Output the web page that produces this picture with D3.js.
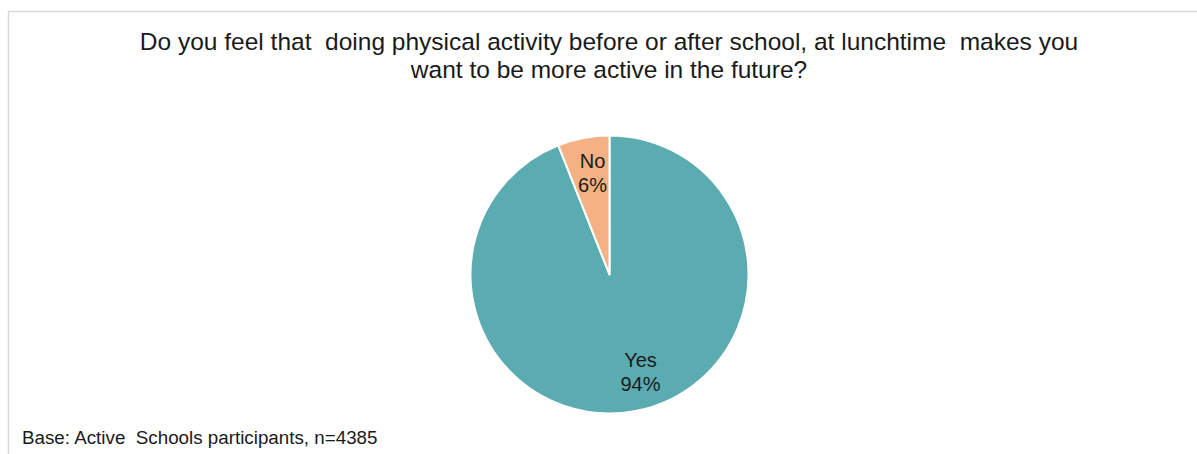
<!DOCTYPE html>
<html>
<head>
<meta charset="utf-8">
<script src="https://cdn.jsdelivr.net/npm/d3@7"></script>
<style>
  html, body { margin: 0; padding: 0; background: #fff; }
  svg { display: block; }
  text { font-family: "Liberation Sans", Arial, sans-serif; fill: #1a1a1a; white-space: pre; }
</style>
</head>
<body>
<svg id="chart" width="1197" height="454"></svg>
<script>
// Survey responses
const categories = ["Yes", "No"];
const shares = [94, 6];
const sliceColors = ["#5BACB1", "#F4B183"];
const titleLines = [
  "Do you feel that  doing physical activity before or after school, at lunchtime  makes you",
  "want to be more active in the future?"
];
const footnote = "Base: Active  Schools participants, n=4385";

const W = 1197, H = 454;
const svg = d3.select("#chart");

// chart frame
svg.append("rect")
  .attr("x", 8.5).attr("y", 11.5)
  .attr("width", W + 10).attr("height", H + 10)
  .attr("fill", "#fff")
  .attr("stroke", "#d9d9d9")
  .attr("stroke-width", 1.5);

// title
svg.append("text")
  .attr("x", 609).attr("y", 49.5)
  .attr("text-anchor", "middle")
  .style("font-size", "24.5px")
  .selectAll("tspan")
  .data(titleLines)
  .join("tspan")
  .attr("x", 609)
  .attr("dy", (d, i) => i === 0 ? 0 : 28)
  .text(d => d);

// pie
const cx = 609.5, cy = 274.5, r = 139;
const data = categories.map((c, i) => ({ name: c, value: shares[i], color: sliceColors[i] }));
const pie = d3.pie().sort(null).value(d => d.value);
const arcs = pie(data);
const arc = d3.arc().innerRadius(0).outerRadius(r);
const labelArc = d3.arc().innerRadius(r * 0.73).outerRadius(r * 0.73);

const g = svg.append("g").attr("transform", `translate(${cx},${cy})`);
g.selectAll("path")
  .data(arcs)
  .join("path")
  .attr("d", arc)
  .attr("fill", d => d.data.color)
  .attr("stroke", "#fff")
  .attr("stroke-width", 2)
  .attr("stroke-linejoin", "round");

// slice labels: name over percentage
const labels = g.selectAll("g.lbl")
  .data(arcs)
  .join("g")
  .attr("class", "lbl")
  .attr("transform", d => {
    const [x, y] = labelArc.centroid(d);
    // the large slice's label sits slightly toward the right of its centroid
    const shift = d.data.value > 50 ? 12 : 2;
    return `translate(${x + shift},${y})`;
  });
labels.append("text")
  .attr("text-anchor", "middle")
  .attr("y", -7)
  .style("font-size", "20px")
  .text(d => d.data.name);
labels.append("text")
  .attr("text-anchor", "middle")
  .attr("y", 17)
  .style("font-size", "20px")
  .text(d => d3.format(".0f")(d.data.value) + "%");

// base note
svg.append("text")
  .attr("x", 22).attr("y", 444)
  .style("font-size", "18.8px")
  .text(footnote);
</script>
</body>
</html>
